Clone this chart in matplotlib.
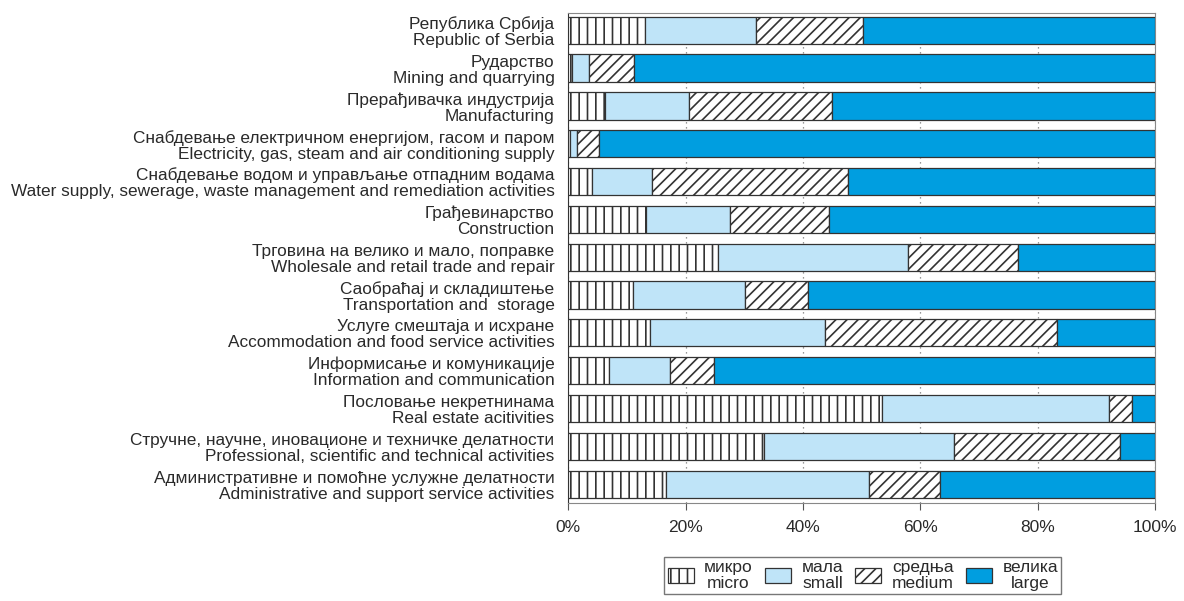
import numpy as np
import matplotlib
matplotlib.use("Agg")
import matplotlib.pyplot as plt
from matplotlib.patches import Patch

plt.rcParams['font.family'] = ['Liberation Sans', 'DejaVu Sans']
plt.rcParams['hatch.linewidth'] = 1.2

categories = [
    "Република Србија\nRepublic of Serbia",
    "Рударство\nMining and quarrying",
    "Прерађивачка индустрија\nManufacturing",
    "Снабдевање електричном енергијом, гасом и паром\nElectricity, gas, steam and air conditioning supply",
    "Снабдевање водом и управљање отпадним водама\nWater supply, sewerage, waste management and remediation activities",
    "Грађевинарство\nConstruction",
    "Трговина на велико и мало, поправке\nWholesale and retail trade and repair",
    "Саобраћај и складиштење\nTransportation and  storage",
    "Услуге смештаја и исхране\nAccommodation and food service activities",
    "Информисање и комуникације\nInformation and communication",
    "Пословање некретнинама\nReal estate acitivities",
    "Стручне, научне, иновационе и техничке делатности\nProfessional, scientific and technical activities",
    "Административне и помоћне услужне делатности\nAdministrative and support service activities",
]

micro = [13.1, 0.7, 6.2, 0.3, 4.0, 13.2, 25.5, 11.1, 14.0, 7.0, 53.5, 33.3, 16.7]
small = [18.9, 2.9, 14.3, 1.1, 10.2, 14.3, 32.4, 19.1, 29.7, 10.4, 38.6, 32.4, 34.5]
medium = [18.2, 7.6, 24.5, 3.9, 33.5, 17.0, 18.8, 10.7, 39.6, 7.5, 4.0, 28.4, 12.1]
large = [100 - a - b - c for a, b, c in zip(micro, small, medium)]

series_labels = ["микро\nmicro", "мала\nsmall", "средња\nmedium", "велика\nlarge"]
xticks = [0, 20, 40, 60, 80, 100]

fig = plt.figure(figsize=(11.84, 6.01), dpi=100)
ax = fig.add_axes([0.48, 0.163, 0.4955, 0.815])

y = np.arange(len(categories))[::-1]
edge = "#333333"
txt = "#2a2a2a"
styles = [
    dict(color="white", hatch="||"),
    dict(color="#bfe4f8", hatch=None),
    dict(color="white", hatch="///"),
    dict(color="#009ee0", hatch=None),
]

left = np.zeros(len(categories))
for vals, st in zip([micro, small, medium, large], styles):
    ax.barh(y, vals, left=left, height=0.72, color=st["color"], hatch=st["hatch"],
            edgecolor=edge, linewidth=0.9, zorder=3)
    left += np.array(vals)

ax.set_xlim(0, 100)
ax.set_ylim(-0.5, 12.45)
ax.set_xticks(xticks)
ax.set_xticklabels([f"{t}%" for t in xticks], fontsize=12.5, color=txt)
ax.set_yticks(y)
ax.set_yticklabels(categories, fontsize=12.4, color=txt, linespacing=1.08)
ax.tick_params(axis="y", length=0, pad=10)
ax.tick_params(axis="x", length=5, color="#555555", pad=7)
ax.xaxis.grid(True, linestyle=(0, (1, 3)), color="#777777", linewidth=0.9, zorder=0)
for s in ax.spines.values():
    s.set_color("#888888")
ax.spines["left"].set_color("#333333")

handles = [Patch(facecolor=st["color"], hatch=st["hatch"], edgecolor=edge, linewidth=0.9)
           for st in styles]
leg = ax.legend(handles, series_labels, loc="upper center", bbox_to_anchor=(0.502, -0.092),
                ncol=4, fontsize=12.5, frameon=True, fancybox=False, edgecolor="#555555",
                handlelength=1.5, handleheight=0.9, columnspacing=0.7, handletextpad=0.6,
                borderpad=0.2, labelspacing=0.2)
leg.get_frame().set_linewidth(1.0)
for t in leg.get_texts():
    t.set_linespacing(1.05)
    t.set_multialignment("center")
    t.set_color(txt)

fig.savefig("out.png", dpi=100)
